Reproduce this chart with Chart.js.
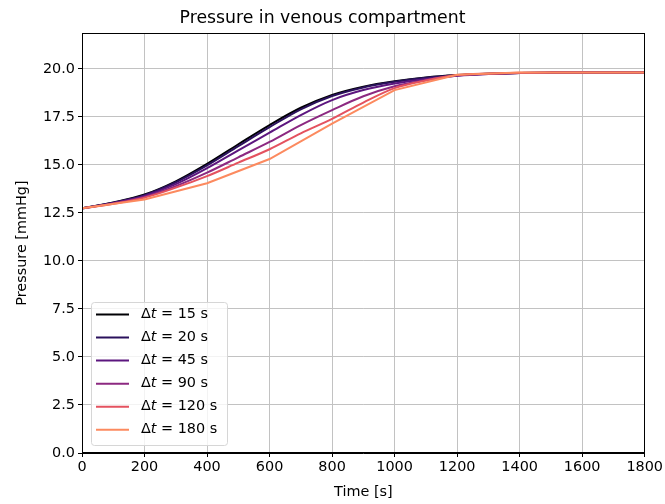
<!DOCTYPE html>
<html>
<head>
<meta charset="utf-8">
<script src="https://cdn.jsdelivr.net/npm/chart.js@4/dist/chart.umd.min.js"></script>
<style>
  html, body { margin: 0; padding: 0; background: #fff; }
  #wrap { width: 665px; height: 504px; }
</style>
</head>
<body>
<div id="wrap"><canvas id="venousChart"></canvas></div>
<script>
"use strict";

// Time grids (s)
const TIME_FINE = [0, 100, 200, 300, 400, 500, 600, 700, 800, 900, 1000, 1100, 1200, 1300, 1400, 1500, 1600, 1700, 1800];
const TIME_COARSE = [0, 200, 400, 600, 800, 1000, 1200, 1400, 1600, 1800];

// Pressure (mmHg) per time step size
const P_DT15 = [12.74, 13.05, 13.46, 14.15, 15.06, 16.08, 17.08, 17.98, 18.65, 19.08, 19.36, 19.56, 19.68, 19.75, 19.79, 19.81, 19.82, 19.82, 19.82];
const P_DT20 = [12.74, 13.04, 13.43, 14.10, 14.98, 15.98, 16.97, 17.90, 18.59, 19.04, 19.33, 19.54, 19.67, 19.75, 19.79, 19.81, 19.82, 19.82, 19.82];
const P_DT45 = [12.74, 13.02, 13.39, 14.00, 14.83, 15.76, 16.68, 17.60, 18.38, 18.90, 19.24, 19.48, 19.65, 19.74, 19.79, 19.81, 19.82, 19.82, 19.82];
const P_DT90 = [12.74, 13.00, 13.34, 13.90, 14.60, 15.40, 16.20, 17.08, 17.86, 18.58, 19.10, 19.42, 19.66, 19.74, 19.79, 19.81, 19.82, 19.82, 19.82];
const P_DT120 = [12.74, 12.98, 13.30, 13.82, 14.42, 15.12, 15.82, 16.65, 17.40, 18.25, 19.00, 19.40, 19.68, 19.76, 19.80, 19.82, 19.82, 19.82, 19.82];
const P_DT180 = [12.74, 13.20, 14.05, 15.31, 17.15, 18.90, 19.70, 19.82, 19.82, 19.82];

const DT_VALUES = ['15', '20', '45', '90', '120', '180'];
const SERIES = [P_DT15, P_DT20, P_DT45, P_DT90, P_DT120, P_DT180];
const SERIES_TIME = [TIME_FINE, TIME_FINE, TIME_FINE, TIME_FINE, TIME_FINE, TIME_COARSE];
const COLORS = ['#000004', '#2a115c', '#5c167f', '#8c2981', '#e4525f', '#fc8a5f'];

const X_TICKS = [0, 200, 400, 600, 800, 1000, 1200, 1400, 1600, 1800];
const Y_TICKS = [0, 2.5, 5, 7.5, 10, 12.5, 15, 17.5, 20];

const FONT = 'DejaVu Sans';

// full black frame like matplotlib spines
const framePlugin = {
    id: 'frame',
    afterDraw(chart) {
        const a = chart.chartArea;
        const c = chart.ctx;
        c.save();
        c.strokeStyle = '#000';
        c.lineWidth = 1;
        c.strokeRect(Math.round(a.left) + 0.5, Math.round(a.top) + 0.5,
            Math.round(a.right - a.left) - 1, Math.round(a.bottom - a.top) - 1);
        c.restore();
    }
};

// legend box inside the axes, lower left
const innerLegend = {
    id: 'innerLegend',
    afterDraw(chart) {
        const c = chart.ctx;
        const a = chart.chartArea;
        const x0 = a.left + 9, y0 = a.bottom - 151;
        const w = 136, h = 143;
        c.save();
        c.beginPath();
        c.roundRect(x0 + 0.5, y0 + 0.5, w, h, 3);
        c.fillStyle = 'rgba(255,255,255,0.8)';
        c.fill();
        c.strokeStyle = '#d6d6d6';
        c.lineWidth = 1;
        c.stroke();
        c.textBaseline = 'middle';
        DT_VALUES.forEach((dt, i) => {
            const y = y0 + 12.5 + i * 23.05;
            c.strokeStyle = COLORS[i];
            c.lineWidth = 2;
            c.beginPath();
            c.moveTo(x0 + 5, y);
            c.lineTo(x0 + 38, y);
            c.stroke();
            let tx = x0 + 50;
            c.fillStyle = '#000';
            c.font = '14.4px "' + FONT + '"';
            c.fillText('\u0394', tx, y);
            tx += c.measureText('\u0394').width;
            c.font = 'italic 14.4px "' + FONT + '"';
            c.fillText('t', tx, y);
            tx += c.measureText('t').width;
            c.font = '14.4px "' + FONT + '"';
            c.fillText(' = ' + dt + ' s', tx, y);
        });
        c.restore();
    }
};

const datasets = SERIES.map((vals, i) => ({
    label: '\u0394t = ' + DT_VALUES[i] + ' s',
    data: vals.map((v, k) => ({ x: SERIES_TIME[i][k], y: v })),
    borderColor: COLORS[i],
    backgroundColor: COLORS[i],
    borderWidth: 2,
    pointRadius: 0,
    fill: false,
    cubicInterpolationMode: i < 5 ? 'monotone' : 'default',
    tension: 0,
    order: SERIES.length - i
}));

new Chart(document.getElementById('venousChart'), {
    type: 'line',
    data: { datasets: datasets },
    plugins: [framePlugin, innerLegend],
    options: {
        responsive: true,
        maintainAspectRatio: false,
        animation: false,
        devicePixelRatio: 1,
        layout: { padding: { left: 0, right: 20, top: 0, bottom: 0 } },
        plugins: {
            legend: { display: false },
            tooltip: { enabled: false },
            title: {
                display: true,
                text: 'Pressure in venous compartment',
                color: '#000',
                font: { family: FONT, size: 17.3, weight: 'normal' },
                padding: { top: 8, bottom: 4.3 }
            }
        },
        scales: {
            x: {
                type: 'linear',
                min: 0,
                max: 1800,
                afterFit(scale) { scale.height = 51; },
                afterBuildTicks(scale) { scale.ticks = X_TICKS.map(v => ({ value: v })); },
                ticks: {
                    color: '#000',
                    font: { family: FONT, size: 14.4 },
                    padding: 2,
                    maxRotation: 0,
                    callback: v => String(v)
                },
                grid: { color: '#c2c2c2', lineWidth: 1, tickLength: 4, tickColor: '#000' },
                border: { color: '#000', width: 1 },
                title: {
                    display: true,
                    text: 'Time [s]',
                    color: '#000',
                    font: { family: FONT, size: 14.4 },
                    padding: { top: 0, bottom: 3.4 }
                }
            },
            y: {
                type: 'linear',
                min: 0,
                max: 21.87,
                afterFit(scale) { scale.width = 82; },
                afterBuildTicks(scale) { scale.ticks = Y_TICKS.map(v => ({ value: v })); },
                ticks: {
                    color: '#000',
                    font: { family: FONT, size: 14.4 },
                    padding: 3,
                    callback: v => v.toFixed(1)
                },
                grid: { color: '#c2c2c2', lineWidth: 1, tickLength: 4, tickColor: '#000' },
                border: { color: '#000', width: 1 },
                title: {
                    display: true,
                    text: 'Pressure [mmHg]',
                    color: '#000',
                    font: { family: FONT, size: 14.4 },
                    padding: { top: 13.4, bottom: 0 }
                }
            }
        }
    }
});
</script>
</body>
</html>
